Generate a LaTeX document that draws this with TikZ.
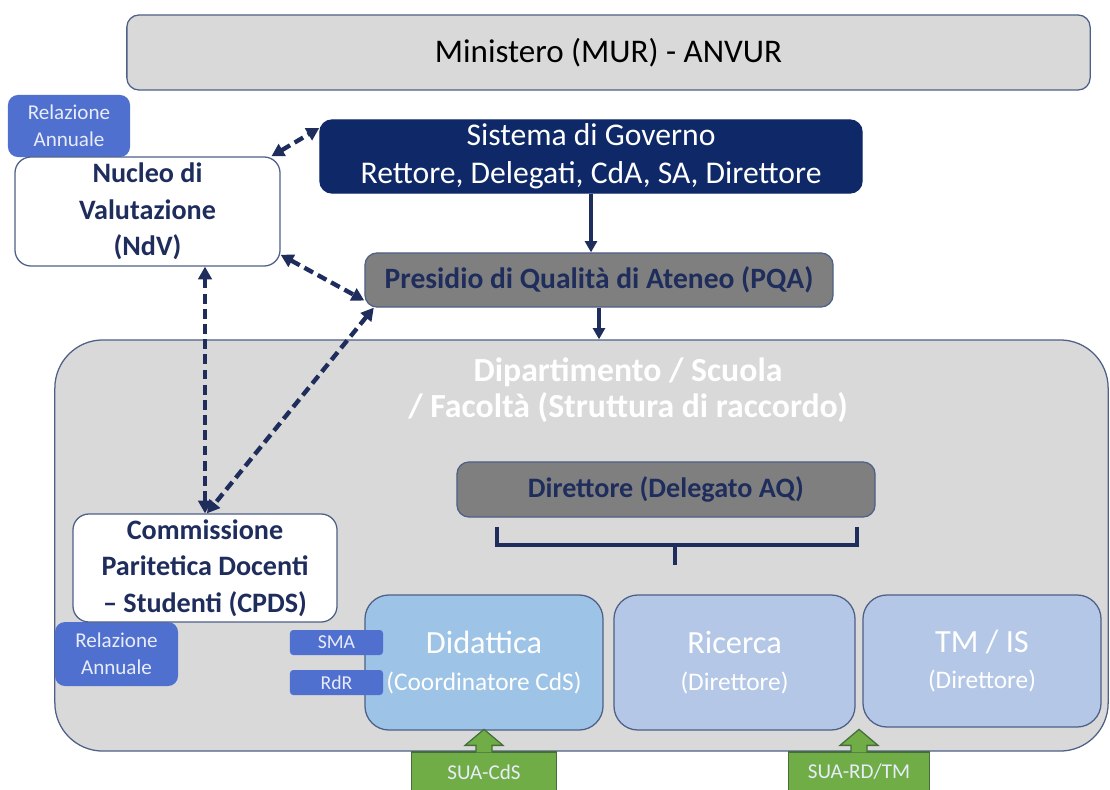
\documentclass[tikz,border=0pt]{standalone}
\usepackage{fontspec}
\setmainfont{Carlito}
\usetikzlibrary{arrows.meta,calc}
\definecolor{navy}{RGB}{31,45,92}
\definecolor{govblue}{RGB}{14,40,104}
\definecolor{edge}{RGB}{78,96,135}
\definecolor{boxgray}{RGB}{217,217,217}
\definecolor{pqagray}{RGB}{127,127,127}
\definecolor{relblue}{RGB}{80,112,208}
\definecolor{didblue}{RGB}{157,195,230}
\definecolor{ricblue}{RGB}{180,199,231}
\definecolor{suagreen}{RGB}{112,173,71}
\definecolor{suaedge}{RGB}{70,110,60}
\definecolor{paletext}{RGB}{232,236,248}

\begin{document}
\begin{tikzpicture}[x=0.025cm,y=-0.025cm,
  box/.style={rectangle,rounded corners=0.3cm,draw=edge,line width=0.9pt,inner sep=0pt,align=center},
  tag/.style={box,rounded corners=0.25cm,fill=relblue,draw=none,text=paletext,font=\fontsize{15}{19}\selectfont},
  unit/.style={box,rounded corners=0.6cm,text=white,font=\fontsize{18}{26}\selectfont},
  sua/.style={draw=suaedge,fill=suagreen,line width=0.9pt},
  dasharrow/.style={draw=navy,line width=3.1pt,dash pattern=on 7pt off 3.8pt,{Triangle[length=9pt,width=9.5pt]}-{Triangle[length=9pt,width=9.5pt]}},
  flow/.style={draw=navy,line width=2.6pt,-{Triangle[length=8pt,width=8.5pt]}}]
\useasboundingbox (0,0) rectangle (1110,789);

% top level
\node[box,fill=boxgray,minimum width=24.075cm,minimum height=1.875cm,font=\fontsize{23.5}{28}\selectfont] (minb) at (608.5,52.5) {Ministero (MUR) - ANVUR};
\node[tag,minimum width=3.05cm,minimum height=1.55cm] (reltop) at (69,126) {Relazione\\Annuale};
\node[box,fill=white,rounded corners=0.4cm,minimum width=6.625cm,minimum height=2.725cm,text=navy,font=\bfseries\fontsize{20}{26}\selectfont] (ndv) at (147.5,211.5) {Nucleo di\\Valutazione\\(NdV)};
\node[box,fill=govblue,draw=govblue,minimum width=13.55cm,minimum height=1.825cm,text=white,font=\fontsize{22.5}{27}\selectfont] (gov) at (591,156.5) {Sistema di Governo\\Rettore, Delegati, CdA, SA, Direttore};
\node[box,fill=pqagray,minimum width=11.7cm,minimum height=1.35cm,text=navy,font=\bfseries\fontsize{21}{24}\selectfont] (pqa) at (599,280) {Presidio di Qualità di Ateneo (PQA)};

% dipartimento
\node[box,fill=boxgray,rounded corners=1.2cm,minimum width=26.325cm,minimum height=10.275cm] (dip) at (581.5,545.5) {};
\node[text=white,align=center,font=\bfseries\fontsize{24}{26}\selectfont] (diptitle) at (628,390) {Dipartimento / Scuola\\/ Facoltà (Struttura di raccordo)};
\node[box,fill=pqagray,minimum width=10.45cm,minimum height=1.375cm,text=navy,font=\bfseries\fontsize{20}{24}\selectfont] (dir) at (666,489.5) {Direttore (Delegato AQ)};
\draw[navy,line width=2.5pt] (497,527) -- (497,545) -- (857,545) -- (857,527);
\draw[navy,line width=2.5pt] (675,545) -- (675,565);

\node[unit,fill=didblue,minimum width=5.95cm,minimum height=3.375cm] (did) at (484,662.5) {{\fontsize{23}{26}\selectfont Didattica}\\(Coordinatore CdS)};
\node[unit,fill=ricblue,minimum width=6.025cm,minimum height=3.375cm] (ric) at (734.5,662.5) {{\fontsize{23}{26}\selectfont Ricerca}\\(Direttore)};
\node[unit,fill=ricblue,minimum width=5.95cm,minimum height=3.3cm] (tm) at (982,661) {{\fontsize{23}{26}\selectfont TM / IS}\\(Direttore)};
\node[tag,rounded corners=0.08cm,minimum width=2.325cm,minimum height=0.625cm,font=\fontsize{14}{17}\selectfont] (sma) at (336.5,642.5) {SMA};
\node[tag,rounded corners=0.08cm,minimum width=2.325cm,minimum height=0.625cm,font=\fontsize{14}{17}\selectfont] (rdr) at (336.5,682.5) {RdR};
\node[tag,minimum width=3.075cm,minimum height=1.6cm] (relbot) at (116.5,654) {Relazione\\Annuale};
\node[box,fill=white,rounded corners=0.4cm,minimum width=6.6cm,minimum height=2.7cm,text=navy,font=\bfseries\fontsize{20}{26}\selectfont] (cpds) at (205,568) {Commissione\\Paritetica Docenti\\-- Studenti (CPDS)};

% SUA
\node[sua,minimum width=3.625cm,minimum height=1cm,text=paletext,font=\fontsize{15}{18}\selectfont] (suacds) at (484,772) {SUA-CdS};
\node[sua,minimum width=3.525cm,minimum height=1cm,text=paletext,font=\fontsize{15}{18}\selectfont] (suard) at (859,772) {SUA-RD/TM};
\filldraw[sua] (suacds.north) ++(-8,1) -- ++(0,-7) -- ++(-11,0) -- ++(19,-16) -- ++(19,16) -- ++(-11,0) -- ++(0,7);
\filldraw[sua] (suard.north) ++(-8,1) -- ++(0,-7) -- ++(-11,0) -- ++(19,-16) -- ++(19,16) -- ++(-11,0) -- ++(0,7);

% connectors
\draw[dasharrow] (ndv.24) -- (gov.174);
\draw[dasharrow] (ndv.-18) -- (pqa.185);
\draw[dasharrow] (ndv.south -| cpds.north) -- (cpds.north);
\draw[dasharrow] (pqa.187) -- (cpds.88);
\draw[flow] (gov.south) -- (gov.south |- pqa.north);
\draw[flow] (pqa.south) -- (pqa.south |- dip.north);
\end{tikzpicture}
\end{document}
